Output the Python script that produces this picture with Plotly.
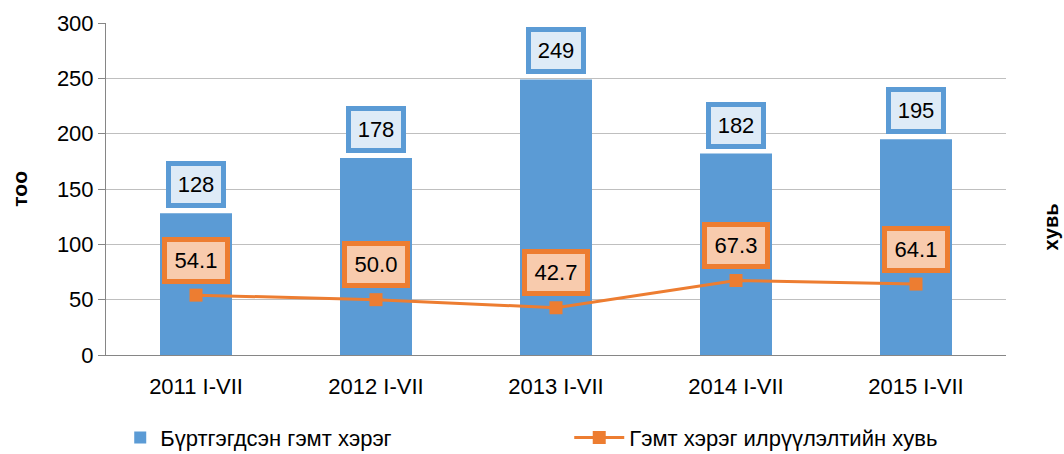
import plotly.graph_objects as go

categories = ["2011 I-VII", "2012 I-VII", "2013 I-VII", "2014 I-VII", "2015 I-VII"]
registered = [128, 178, 249, 182, 195]
detection_rate = [54.1, 50.0, 42.7, 67.3, 64.1]

BLUE = "#5B9BD5"
ORANGE = "#ED7D31"
FONT = "Liberation Sans"

fig = go.Figure()
fig.add_trace(go.Bar(
    x=categories, y=registered, name="Бүртгэгдсэн гэмт хэрэг",
    marker=dict(color=BLUE, line=dict(width=0)), legend="legend",
))
fig.add_trace(go.Scatter(
    x=categories, y=detection_rate, name="Гэмт хэрэг илрүүлэлтийн хувь",
    mode="lines+markers",
    line=dict(color=ORANGE, width=3),
    marker=dict(symbol="square", size=13, color=ORANGE), legend="legend2",
))

for c, v in zip(categories, registered):
    fig.add_annotation(x=c, y=v, text=str(v), showarrow=False, yanchor="bottom",
                       yshift=5, width=48, height=35, bgcolor="#DEEBF7",
                       bordercolor=BLUE, borderwidth=5, borderpad=1,
                       font=dict(family=FONT, size=22, color="black"))
for c, v in zip(categories, detection_rate):
    fig.add_annotation(x=c, y=v, text=f"{v:.1f}", showarrow=False, yanchor="middle",
                       yshift=35, width=56, height=35, bgcolor="#F8CBAD",
                       bordercolor=ORANGE, borderwidth=5, borderpad=1,
                       font=dict(family=FONT, size=22, color="black"))

# axis titles
fig.add_annotation(xref="paper", yref="paper", x=-0.097, y=0.5, text="<b>тоо</b>",
                   textangle=-90, showarrow=False, xanchor="center", yanchor="middle",
                   font=dict(family=FONT, size=21, color="black"))
fig.add_annotation(xref="paper", yref="paper", x=1.05, y=0.384, text="<b>хувь</b>",
                   textangle=-90, showarrow=False, xanchor="center", yanchor="middle",
                   font=dict(family=FONT, size=20, color="black"))

legend_common = dict(orientation="h", xanchor="left", yref="container", y=0.036,
                     yanchor="middle", font=dict(family=FONT, size=22),
                     bgcolor="rgba(0,0,0,0)")

fig.update_layout(
    width=1064, height=454,
    margin=dict(l=106, r=58, t=23, b=99, autoexpand=False),
    paper_bgcolor="white", plot_bgcolor="white",
    font=dict(family=FONT, size=22, color="black"),
    bargap=0.6,
    showlegend=True,
    legend=dict(xref="container", x=0.113, **legend_common),
    legend2=dict(xref="container", x=0.535, itemwidth=50, **legend_common),
    xaxis=dict(showgrid=False, showline=True, linecolor="#868686", linewidth=1,
               ticks="", ticklen=0, ticklabelstandoff=12, automargin=False),
    yaxis=dict(range=[0, 300], dtick=50, showgrid=True, gridcolor="#BFBFBF",
               showline=True, linecolor="#868686", ticks="outside", ticklen=7,
               tickcolor="#868686", zeroline=False, automargin=False),
)

fig.write_html("out.html", config={"displayModeBar": False},
               post_script="document.body.style.margin='0';")
